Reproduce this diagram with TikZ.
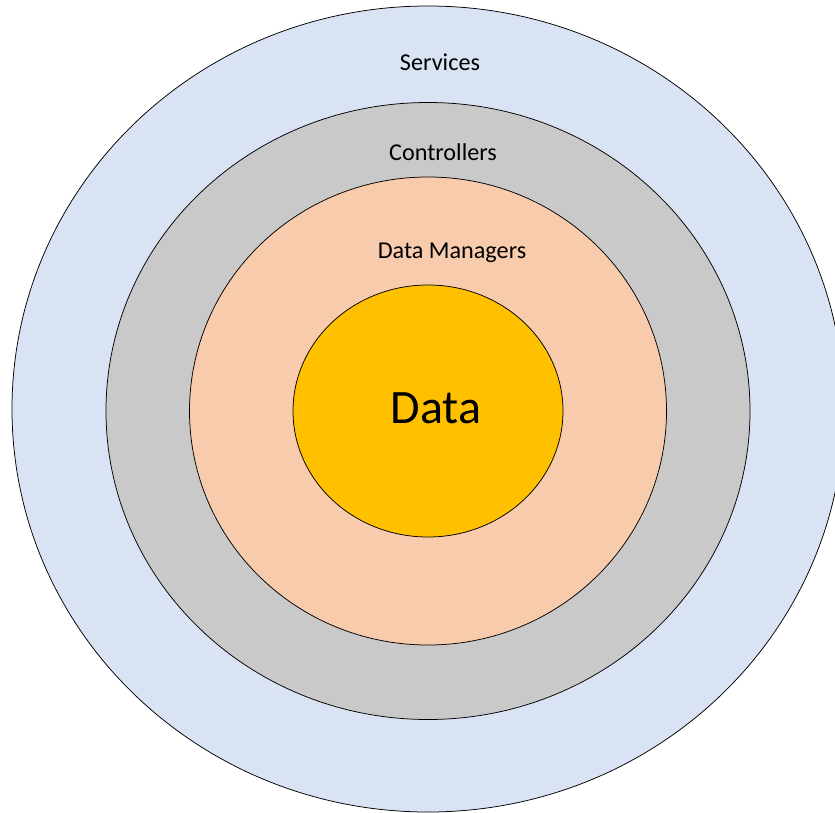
\documentclass[tikz,border=0pt]{standalone}
\usepackage{fontspec}
\setmainfont{Carlito}
\usetikzlibrary{shapes.geometric}

\definecolor{servicesblue}{HTML}{DAE3F3}
\definecolor{controllergrey}{HTML}{C9C9C9}
\definecolor{managerpeach}{HTML}{F8CBAD}
\definecolor{datagold}{HTML}{FFC000}

\begin{document}
\begin{tikzpicture}[x=1pt,y=-1pt,
    ring/.style={ellipse,draw=black,line width=0.75pt,inner sep=0pt},
    layer/.style={font=\fontsize{24.2}{29}\selectfont}]

    \useasboundingbox (0,0) rectangle (835,813);
    \clip (0,0) rectangle (835,813);

    % the layers, from the outside in
    \node [ring,fill=servicesblue,  minimum width=832pt,minimum height=806pt] (services)    at (428,409) {};
    \node [ring,fill=controllergrey,minimum width=644pt,minimum height=617pt] (controllers) at (428,411) {};
    \node [ring,fill=managerpeach,  minimum width=477pt,minimum height=468pt] (managers)    at (428,411) {};
    \node [ring,fill=datagold,      minimum width=270pt,minimum height=252pt] (data)        at (428,411) {};

    \node [layer] (serviceslabel)    at (440,62)  {Services};
    \node [layer] (controllerslabel) at (443,152) {Controllers};
    \node [layer] (managerslabel)    at (452,253) {Data Managers};
    \node [font=\fontsize{48}{58}\selectfont] (datalabel) at (436,408) {Data};

\end{tikzpicture}
\end{document}
